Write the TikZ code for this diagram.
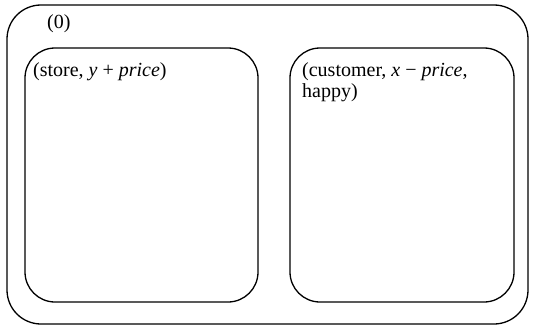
\documentclass[tikz,border=0pt]{standalone}
\usepackage{fontspec}
\setmainfont{Liberation Serif}
\begin{document}
\begin{tikzpicture}[x=1pt,y=-1pt,
  box/.style={draw,line width=1.3pt},
  lbl/.style={anchor=base west,inner sep=0pt,font=\fontsize{20}{21}\selectfont,align=left}]
\useasboundingbox (0,0) rectangle (533,329);
\draw[box,rounded corners=34pt] (7,5) rectangle (528,324);
\draw[box,rounded corners=30pt] (25,48) rectangle (258,302);
\draw[box,rounded corners=30pt] (290,48) rectangle (514,302);
\node[lbl] (zero) at (47,29) {(0)};
\node[lbl] (store) at (33,77) {(store, \textit{y} + \textit{price})};
\node[lbl,anchor=north west] (cust) at (302,62) {(customer, \textit{x} − \textit{price},\\happy)};
\end{tikzpicture}
\end{document}
